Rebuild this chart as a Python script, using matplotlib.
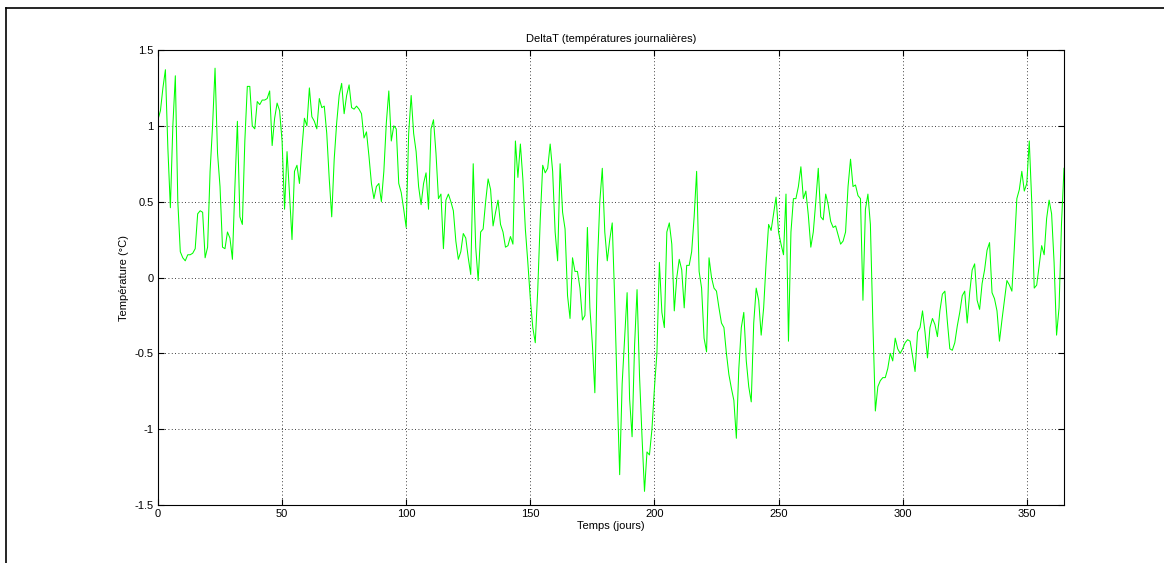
#!/usr/bin/env python3
"""
DeltaT daily temperature plot (MATLAB-like style).
"""

import numpy as np
import matplotlib
matplotlib.use("Agg")
import matplotlib.pyplot as plt
from matplotlib.lines import Line2D

matplotlib.rcParams['font.family'] = ['Liberation Sans', 'DejaVu Sans']
matplotlib.rcParams['font.size'] = 8

# daily values, day 0 .. 365
delta_t = [
    # 0-46
    1.04, 1.10, 1.25, 1.37, 0.85, 0.46, 1.00, 1.33, 0.50, 0.17,
    0.13, 0.11, 0.15, 0.15, 0.16, 0.19, 0.42, 0.44, 0.43, 0.13,
    0.20, 0.70, 1.00, 1.38, 0.82, 0.60, 0.20, 0.19, 0.30, 0.26,
    0.12, 0.60, 1.03, 0.40, 0.35, 0.90, 1.26, 1.26, 1.00, 0.98,
    1.16, 1.14, 1.17, 1.17, 1.18, 1.23, 0.87,
    # 47-93
    1.05, 1.15, 1.10, 0.90, 0.45, 0.83, 0.55, 0.25, 0.70, 0.74,
    0.62, 0.85, 1.05, 1.00, 1.25, 1.06, 1.03, 0.98, 1.18, 1.12,
    1.13, 0.95, 0.65, 0.40, 0.78, 1.02, 1.20, 1.28, 1.08, 1.20,
    1.27, 1.12, 1.11, 1.13, 1.11, 1.08, 0.92, 0.96, 0.80, 0.62,
    0.52, 0.60, 0.62, 0.50, 0.70, 1.02, 1.23,
    # 94-139
    0.90, 1.00, 0.98, 0.62, 0.56, 0.45, 0.33, 0.95, 1.20, 0.95,
    0.83, 0.60, 0.48, 0.62, 0.69, 0.45, 0.98, 1.04, 0.82, 0.52,
    0.55, 0.19, 0.51, 0.55, 0.50, 0.44, 0.24, 0.12, 0.17, 0.29,
    0.26, 0.13, 0.02, 0.75, 0.20, -0.02, 0.30, 0.32, 0.50, 0.65,
    0.58, 0.34, 0.43, 0.51, 0.35, 0.30,
    # 140-184
    0.20, 0.21, 0.27, 0.22, 0.90, 0.66, 0.88, 0.65, 0.32, 0.10,
    -0.14, -0.33, -0.43, -0.08, 0.38, 0.74, 0.69, 0.72, 0.88, 0.70,
    0.30, 0.11, 0.75, 0.43, 0.32, -0.12, -0.27, 0.13, 0.04, 0.04,
    -0.07, -0.28, -0.25, 0.33, -0.20, -0.44, -0.76, 0.07, 0.50, 0.72,
    0.30, 0.11, 0.25, 0.36, -0.15,
    # 185-232
    -0.75, -1.30, -0.70, -0.40, -0.10, -0.80, -1.05, -0.45, -0.08, -0.65,
    -1.05, -1.41, -1.15, -1.17, -1.00, -0.73, -0.50, 0.10, -0.23, -0.33,
    0.30, 0.36, 0.22, -0.22, 0.00, 0.12, 0.05, -0.20, 0.08, 0.08,
    0.17, 0.40, 0.70, 0.04, -0.07, -0.40, -0.49, 0.13, 0.00, -0.07,
    -0.09, -0.20, -0.30, -0.33, -0.50, -0.64, -0.73, -0.81,
    # 233-278
    -1.06, -0.60, -0.33, -0.23, -0.55, -0.72, -0.82, -0.30, -0.07, -0.15,
    -0.38, -0.20, 0.10, 0.35, 0.31, 0.42, 0.53, 0.30, 0.22, 0.15,
    0.55, -0.42, 0.30, 0.52, 0.52, 0.60, 0.73, 0.52, 0.57, 0.41,
    0.20, 0.30, 0.50, 0.72, 0.40, 0.38, 0.55, 0.48, 0.37, 0.33,
    0.34, 0.28, 0.22, 0.24, 0.30, 0.60,
    # 279-325
    0.78, 0.60, 0.61, 0.54, 0.52, -0.15, 0.45, 0.55, 0.35, -0.30,
    -0.88, -0.72, -0.68, -0.66, -0.66, -0.60, -0.50, -0.55, -0.40, -0.47,
    -0.50, -0.47, -0.43, -0.41, -0.42, -0.52, -0.62, -0.36, -0.33, -0.22,
    -0.36, -0.53, -0.33, -0.27, -0.31, -0.39, -0.22, -0.11, -0.09, -0.29,
    -0.47, -0.48, -0.43, -0.32, -0.23, -0.12, -0.09,
    # 326-365
    -0.30, -0.10, 0.05, 0.09, -0.15, -0.21, -0.04, 0.05, 0.18, 0.23,
    -0.10, -0.14, -0.22, -0.42, -0.28, -0.15, -0.02, -0.05, -0.09, 0.20,
    0.52, 0.58, 0.70, 0.57, 0.62, 0.90, 0.50, -0.07, -0.05, 0.08,
    0.21, 0.15, 0.39, 0.51, 0.42, 0.10, -0.38, -0.20, 0.36, 0.72,
]
days = np.arange(len(delta_t))

x_ticks = [0, 50, 100, 150, 200, 250, 300, 350]
y_ticks = [-1.5, -1, -0.5, 0, 0.5, 1, 1.5]
y_labels = ['-1.5', '-1', '-0.5', '0', '0.5', '1', '1.5']


def plot_delta_t():
    fig = plt.figure(figsize=(11.64, 5.63), dpi=100)
    ax = fig.add_axes([0.1357, 0.103, 0.7784, 0.8082])

    ax.plot(days, delta_t, color='#00ff00', linewidth=0.75)

    ax.set_xlim(0, 365)
    ax.set_ylim(-1.5, 1.5)
    ax.set_xticks(x_ticks)
    ax.set_yticks(y_ticks)
    ax.set_yticklabels(y_labels)
    ax.tick_params(direction='in', top=True, right=True, length=4, width=0.8,
                   labelsize=8, pad=3)
    ax.grid(True, color='black', linestyle=(0, (1, 3)), linewidth=0.6)
    for s in ax.spines.values():
        s.set_linewidth(0.8)

    ax.set_title('DeltaT (températures journalières)', fontsize=8, pad=6)
    ax.set_xlabel('Temps (jours)', fontsize=8, labelpad=1)
    ax.set_ylabel('Température (°C)', fontsize=8, labelpad=4)

    # outer frame lines (top and left), as in the exported figure
    fig.add_artist(Line2D([0.005, 1.0], [0.986, 0.986], color='black', linewidth=1.2))
    fig.add_artist(Line2D([0.005, 0.005], [0.0, 0.986], color='black', linewidth=1.2))

    fig.savefig('out.png', dpi=100)
    plt.close(fig)


if __name__ == "__main__":
    plot_delta_t()
